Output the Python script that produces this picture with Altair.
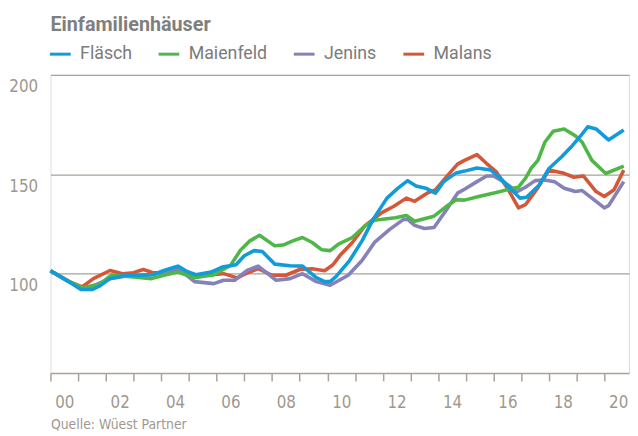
import altair as alt
import pandas as pd

series_names = ["Fläsch", "Maienfeld", "Jenins", "Malans"]
series_colors = ["#0f9cd9", "#4eb748", "#8581b9", "#d5573a"]

flasch_t = [2000.0, 2000.6, 2001.1, 2001.5, 2001.8, 2002.15, 2002.7, 2003.2, 2003.7, 2004.1,
            2004.6, 2004.95, 2005.25, 2005.8, 2006.2, 2006.7, 2007.0, 2007.35, 2007.65, 2008.1,
            2008.65, 2009.1, 2009.6, 2009.9, 2010.1, 2010.3, 2010.8, 2011.25, 2011.65, 2012.15,
            2012.55, 2012.9, 2013.2, 2013.55, 2013.9, 2014.2, 2014.65, 2014.95, 2015.4, 2015.9,
            2016.25, 2016.6, 2016.95, 2017.2, 2017.65, 2018.0, 2018.45, 2018.85, 2019.15, 2019.4,
            2019.7, 2020.15, 2020.7]
flasch_v = [101.5, 96.5, 92.0, 92.0, 94.0, 97.5, 99.2, 99.2, 99.5, 101.6,
            103.8, 101.0, 99.5, 100.8, 103.3, 104.5, 109.0, 111.6, 111.1, 104.8,
            104.0, 103.8, 98.0, 96.0, 96.0, 98.4, 106.6, 116.5, 127.3, 138.0,
            143.0, 146.8, 144.1, 143.0, 140.5, 146.3, 150.7, 151.6, 153.2, 152.1,
            148.0, 143.0, 138.0, 138.5, 144.6, 152.9, 158.7, 164.5, 169.4, 173.9,
            172.8, 167.3, 172.3]

maienfeld_t = [2000.0, 2000.6, 2001.15, 2001.75, 2002.2, 2002.9, 2003.65, 2004.1, 2004.6, 2005.2,
               2005.9, 2006.5, 2006.85, 2007.2, 2007.55, 2008.1, 2008.4, 2008.75, 2009.1, 2009.45,
               2009.8, 2010.1, 2010.4, 2010.9, 2011.35, 2011.7, 2012.45, 2012.85, 2013.15, 2013.85,
               2014.3, 2014.65, 2014.95, 2015.5, 2016.1, 2016.7, 2016.9, 2017.15, 2017.35, 2017.6,
               2017.85, 2018.15, 2018.55, 2018.95, 2019.2, 2019.55, 2020.05, 2020.7]
maienfeld_v = [101.5, 96.5, 92.9, 94.5, 99.2, 98.4, 97.5, 99.2, 100.8, 97.9,
               99.5, 104.1, 111.6, 116.5, 119.3, 114.0, 114.4, 116.5, 118.2, 115.7,
               112.0, 111.6, 114.9, 118.2, 124.0, 126.9, 128.1, 129.3, 126.4, 128.9,
               133.9, 137.2, 137.0, 138.9, 140.8, 143.0, 143.5, 148.0, 152.9, 157.0,
               166.1, 171.6, 172.8, 169.4, 166.1, 157.0, 150.4, 154.1]

jenins_t = [2000.0, 2000.6, 2001.15, 2001.6, 2002.15, 2002.7, 2003.2, 2003.7, 2004.1, 2004.6,
            2005.2, 2005.9, 2006.25, 2006.65, 2007.1, 2007.5, 2008.15, 2008.65, 2009.1, 2009.6,
            2010.1, 2010.75, 2011.25, 2011.7, 2012.25, 2012.75, 2012.9, 2013.15, 2013.5, 2013.85,
            2014.3, 2014.7, 2014.95, 2015.4, 2015.75, 2016.0, 2016.35, 2016.85, 2017.15, 2017.5,
            2017.85, 2018.2, 2018.55, 2018.95, 2019.2, 2019.55, 2020.0, 2020.15, 2020.7]
jenins_v = [101.5, 96.5, 92.5, 94.2, 97.5, 98.7, 99.2, 99.6, 100.5, 102.8,
            96.0, 95.0, 96.7, 96.7, 101.6, 103.8, 96.7, 97.5, 100.0, 96.0,
            94.2, 99.2, 106.6, 115.7, 122.3, 127.3, 127.3, 124.3, 122.7, 123.2,
            132.2, 140.5, 142.5, 146.3, 149.1, 149.1, 146.3, 141.3, 143.5, 146.8,
            147.1, 146.3, 143.0, 141.3, 141.8, 138.0, 133.1, 134.2, 146.3]

malans_t = [2000.0, 2000.7, 2001.15, 2001.55, 2002.15, 2002.6, 2003.0, 2003.35, 2003.7, 2004.1,
            2004.6, 2005.1, 2005.8, 2006.25, 2006.75, 2007.05, 2007.5, 2008.0, 2008.5, 2009.0,
            2009.45, 2009.9, 2010.2, 2010.45, 2010.9, 2011.35, 2011.95, 2012.4, 2012.85, 2013.15,
            2013.6, 2013.9, 2014.35, 2014.7, 2014.95, 2015.4, 2015.75, 2016.1, 2016.5, 2016.9,
            2017.15, 2017.55, 2018.0, 2018.5, 2018.9, 2019.25, 2019.7, 2020.0, 2020.35, 2020.7]
malans_v = [101.5, 95.9, 93.4, 97.5, 101.6, 100.0, 100.5, 102.1, 100.5, 100.5,
            102.5, 98.4, 99.5, 100.0, 97.9, 100.0, 102.5, 99.2, 99.2, 102.1,
            102.5, 101.5, 104.5, 109.1, 115.7, 124.0, 130.6, 133.9, 138.0, 136.4,
            140.5, 142.2, 149.6, 155.1, 157.0, 159.9, 155.4, 151.2, 143.0, 133.1,
            134.7, 142.2, 152.1, 150.7, 148.5, 149.1, 141.3, 138.8, 142.2, 152.1]

y_ticks = [100, 150, 200]
x_years = list(range(2000, 2021))

frames = []
for name, ts, vs in [("Fläsch", flasch_t, flasch_v), ("Maienfeld", maienfeld_t, maienfeld_v),
                     ("Jenins", jenins_t, jenins_v), ("Malans", malans_t, malans_v)]:
    frames.append(pd.DataFrame({"series": name, "t": ts, "v": vs}))
df = pd.concat(frames, ignore_index=True)

axis_color = "#aaa198"
label_color = "#a0978e"
narrow = "DejaVu Sans Condensed, sans-serif"

x_enc = alt.X(
    "t:Q",
    scale=alt.Scale(domain=[2000, 2020.89], nice=False, zero=False),
    axis=alt.Axis(
        values=x_years,
        labelExpr="datum.value % 2 == 0 ? ((datum.value % 100 < 10 ? '0' : '') + (datum.value % 100)) : ''",
        labelOffset=14,
        labelOverlap=False,
        labelFlush=False,
        tickSize=8,
        tickColor=axis_color,
        tickWidth=1.5,
        domainColor=axis_color,
        domainWidth=1.5,
        grid=False,
        labelFont=narrow,
        labelFontSize=17,
        labelColor=label_color,
        labelPadding=14,
        title="Quelle: Wüest Partner",
        titleFont=narrow,
        titleFontSize=14,
        titleFontWeight="normal",
        titleColor=label_color,
        titleAnchor="start",
        titleAlign="left",
        titlePadding=7,
    ),
)
y_enc = alt.Y(
    "v:Q",
    scale=alt.Scale(domain=[50, 200], nice=False, zero=False),
    axis=alt.Axis(
        values=y_ticks,
        grid=True,
        gridColor=axis_color,
        gridWidth=1.2,
        domain=False,
        ticks=False,
        labelFont=narrow,
        labelFontSize=17,
        labelColor=label_color,
        labelPadding=13,
        labelBaseline="top",
        labelOffset=4,
        title=None,
    ),
)
color_enc = alt.Color(
    "series:N",
    scale=alt.Scale(domain=series_names, range=series_colors),
    legend=alt.Legend(
        orient="none",
        legendX=-2,
        legendY=-33,
        direction="horizontal",
        title=None,
        symbolType="stroke",
        symbolStrokeWidth=3,
        symbolSize=441,
        labelFont="Roboto",
        labelFontSize=18,
        labelColor="#7b7b7b",
        labelOffset=8,
        columnPadding=20,
    ),
)

layers = []
for name in ["Malans", "Jenins", "Maienfeld", "Fläsch"]:
    layers.append(
        alt.Chart(df)
        .transform_filter(alt.datum.series == name)
        .mark_line(strokeWidth=3.6, strokeJoin="round")
        .encode(x=x_enc, y=y_enc, color=color_enc)
    )

chart = (
    alt.layer(*layers)
    .properties(
        width=586,
        height=302,
        padding={"left": 43, "top": 65, "right": 1, "bottom": 61},
        autosize=alt.AutoSizeParams(type="none"),
        title=alt.TitleParams(
            text="Einfamilienhäuser",
            anchor="start",
            frame="group",
            font="Roboto",
            fontSize=20,
            fontWeight="bold",
            color="#7f7f7f",
            baseline="alphabetic",
            offset=14,
            dy=23,
        ),
    )
    .configure_view(stroke=None)
    .configure(background="white")
)

chart.save("out.html", embed_options={"renderer": "svg", "actions": False})
